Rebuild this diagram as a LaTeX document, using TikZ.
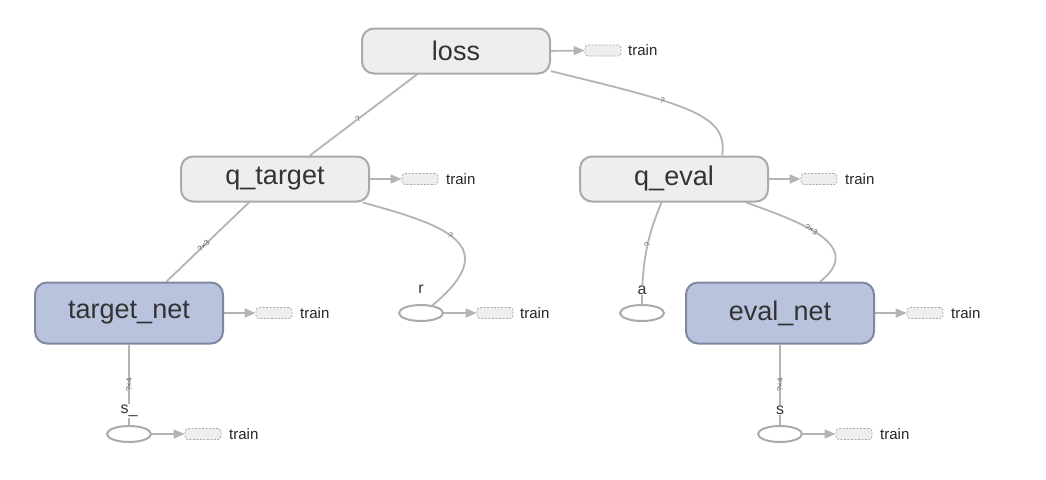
\documentclass[tikz,border=0pt]{standalone}
\usepackage{fontspec}
\setmainfont{Liberation Sans}
\usetikzlibrary{shapes.geometric,arrows.meta}
\definecolor{opfill}{RGB}{238,238,238}
\definecolor{opborder}{RGB}{170,170,170}
\definecolor{netfill}{RGB}{185,195,222}
\definecolor{netborder}{RGB}{128,136,160}
\definecolor{edgec}{RGB}{180,180,180}
\definecolor{txt}{RGB}{51,51,51}
\definecolor{lbl}{RGB}{100,100,100}
\pgfdeclarelayer{bg}
\pgfdeclarelayer{edges}
\pgfsetlayers{bg,edges,main}
\tikzset{
  op/.style={draw=opborder, line width=2pt, fill=opfill, rounded corners=12pt,
    minimum width=188pt, minimum height=45pt, text=txt, inner sep=0pt,
    font=\fontsize{27}{27}\selectfont},
  net/.style={op, fill=netfill, draw=netborder, minimum height=61pt},
  ph/.style={ellipse, draw=opborder, line width=2pt, fill=white, minimum width=44pt,
    minimum height=16pt, inner sep=0pt},
  phlbl/.style={font=\fontsize{16}{16}\selectfont, text=txt, fill=white, inner sep=1pt},
  trainbox/.style={draw=opborder, dash pattern=on 2pt off 1.5pt, fill=opfill,
    rounded corners=3pt, minimum width=36pt, minimum height=11pt, inner sep=0pt,
    line width=0.8pt},
  trainlbl/.style={font=\fontsize{15}{15}\selectfont, text=black!85, anchor=west, inner sep=0pt},
  edge/.style={draw=edgec, line width=1.8pt},
  tarrow/.style={draw=edgec, line width=1.6pt, -{Triangle[length=11pt,width=9pt,fill=edgec]}},
  elbl/.style={font=\fontsize{8}{8}\selectfont, text=lbl, sloped, inner sep=0.5pt}
}
\begin{document}
\begin{tikzpicture}[x=1pt,y=-1pt]
\begin{pgfonlayer}{bg}
\fill[white] (0,0) rectangle (1046,479);
\end{pgfonlayer}
\useasboundingbox (0,0) rectangle (1046,479);

% main nodes
\node[op] (loss) at (456,51) {loss};
\node[op] (qtarget) at (275,179) {q\_target};
\node[op] (qeval) at (674,179) {q\_eval};
\node[net] (targetnet) at (129,313) {target\_net};
\node[net] (evalnet) at (780,313) {eval\_net};
\node[ph] (r) at (421,313) {};
\node[ph] (a) at (642,313) {};
\node[ph] (ss) at (129,434) {};
\node[ph] (s) at (780,434) {};

% train boxes
\node[trainbox] (tb1) at (603,50.5) {};
\node[trainlbl] (tl1) at (628,50.5) {train};
\node[trainbox] (tb2) at (420,179) {};
\node[trainlbl] (tl2) at (446,179) {train};
\node[trainbox] (tb3) at (819,179) {};
\node[trainlbl] (tl3) at (845,179) {train};
\node[trainbox] (tb4) at (274,313) {};
\node[trainlbl] (tl4) at (300,313) {train};
\node[trainbox] (tb5) at (495,313) {};
\node[trainlbl] (tl5) at (520,313) {train};
\node[trainbox] (tb6) at (925,313) {};
\node[trainlbl] (tl6) at (951,313) {train};
\node[trainbox] (tb7) at (203,434) {};
\node[trainlbl] (tl7) at (229,434) {train};
\node[trainbox] (tb8) at (854,434) {};
\node[trainlbl] (tl8) at (880,434) {train};

\begin{pgfonlayer}{edges}
% train arrows
\draw[tarrow] (loss.east) -- (tb1.west);
\draw[tarrow] (qtarget.east) -- (tb2.west);
\draw[tarrow] (qeval.east) -- (tb3.west);
\draw[tarrow] (targetnet.east) -- (tb4.west);
\draw[tarrow] (r.east) -- (tb5.west);
\draw[tarrow] (evalnet.east) -- (tb6.west);
\draw[tarrow] (ss.east) -- (tb7.west);
\draw[tarrow] (s.east) -- (tb8.west);

% data edges
\draw[edge] (loss.211) -- node[elbl, pos=0.55] {?} (qtarget.34);
\draw[edge] (loss.-12) .. controls (690,105) and (728,115) .. node[elbl, pos=0.35] {?} (qeval.26);
\draw[edge] (qtarget.222) -- node[elbl, pos=0.55] {?×3} (targetnet.40);
\draw[edge] (qtarget.-15) .. controls (445,225) and (505,245) .. node[elbl, pos=0.45] {?} (r.34);
\draw[edge] (qeval.242) .. controls (650,230) and (642,255) .. node[elbl, pos=0.5] {?} (a.north);
\draw[edge] (qeval.-18) .. controls (800,222) and (866,245) .. node[elbl, pos=0.42] {?×3} (evalnet.38);
\draw[edge] (targetnet.south) -- node[elbl, sloped=false, rotate=90, pos=0.5] {?×4} (ss.north);
\draw[edge] (evalnet.south) -- node[elbl, sloped=false, rotate=90, pos=0.5] {?×4} (s.north);
\end{pgfonlayer}

% placeholder labels
\node[phlbl] (rl) at (421,289) {r};
\node[phlbl] (al) at (642,290) {a};
\node[phlbl] (ssl) at (129,411) {s\_};
\node[phlbl] (sl) at (780,410) {s};
\end{tikzpicture}
\end{document}
